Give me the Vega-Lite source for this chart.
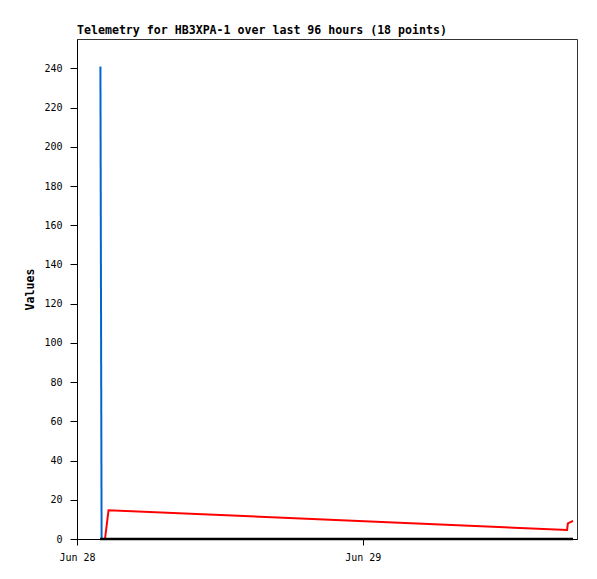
{
  "$schema": "https://vega.github.io/schema/vega-lite/v6.json",
  "width": 500,
  "height": 500,
  "autosize": "none",
  "padding": {"left": 77, "top": 39, "right": 20, "bottom": 40},
  "background": "white",
  "config": {
    "view": {"stroke": "#333333", "strokeWidth": 1},
    "axis": {"grid": false}
  },
  "title": {
    "text": "Telemetry for HB3XPA-1 over last 96 hours (18 points)",
    "anchor": "start",
    "frame": "group",
    "font": "DejaVu Sans Mono",
    "fontSize": 11.6,
    "fontWeight": "bold",
    "color": "black",
    "offset": 2
  },
  "data": {
    "values": [
      {"series": "blue", "time": "2024-06-28T01:58:00", "value": 241},
      {"series": "blue", "time": "2024-06-28T02:04:00", "value": 0},
      {"series": "red", "time": "2024-06-28T02:21:00", "value": 0},
      {"series": "red", "time": "2024-06-28T02:39:00", "value": 14.7},
      {"series": "red", "time": "2024-06-29T17:10:00", "value": 4.6},
      {"series": "red", "time": "2024-06-29T17:14:00", "value": 8.0},
      {"series": "red", "time": "2024-06-29T17:40:00", "value": 9.2},
      {"series": "black", "time": "2024-06-28T01:56:00", "value": 0},
      {"series": "black", "time": "2024-06-29T17:40:00", "value": 0}
    ]
  },
  "encoding": {
    "x": {
      "field": "time",
      "type": "temporal",
      "scale": {
        "domain": [
          {"year": 2024, "month": 6, "date": 28, "hours": 0},
          {"year": 2024, "month": 6, "date": 29, "hours": 18}
        ]
      },
      "axis": {
        "title": null,
        "values": [
          {"year": 2024, "month": 6, "date": 28},
          {"year": 2024, "month": 6, "date": 29}
        ],
        "format": "%b %d",
        "labelFont": "DejaVu Sans Mono",
        "labelFontSize": 10,
        "labelColor": "black",
        "labelPadding": 7,
        "labelFlush": false,
        "tickSize": 6,
        "tickColor": "black",
        "domainColor": "black"
      }
    },
    "y": {
      "field": "value",
      "type": "quantitative",
      "scale": {"domain": [0, 255], "nice": false},
      "axis": {
        "title": "Values",
        "titleFont": "DejaVu Sans Mono",
        "titleFontSize": 11.6,
        "titleFontWeight": "bold",
        "titleColor": "black",
        "titlePadding": 8,
        "values": [0, 20, 40, 60, 80, 100, 120, 140, 160, 180, 200, 220, 240],
        "labelFont": "DejaVu Sans Mono",
        "labelFontSize": 10,
        "labelColor": "black",
        "labelPadding": 8,
        "tickSize": 7,
        "tickColor": "black",
        "domainColor": "black"
      }
    }
  },
  "layer": [
    {
      "transform": [{"filter": "datum.series === 'blue'"}],
      "mark": {"type": "line", "color": "#0066cc", "strokeWidth": 2}
    },
    {
      "transform": [{"filter": "datum.series === 'red'"}],
      "mark": {"type": "line", "color": "#ff0000", "strokeWidth": 2}
    },
    {
      "transform": [{"filter": "datum.series === 'black'"}],
      "mark": {"type": "line", "color": "#000000", "strokeWidth": 2.5}
    }
  ]
}
